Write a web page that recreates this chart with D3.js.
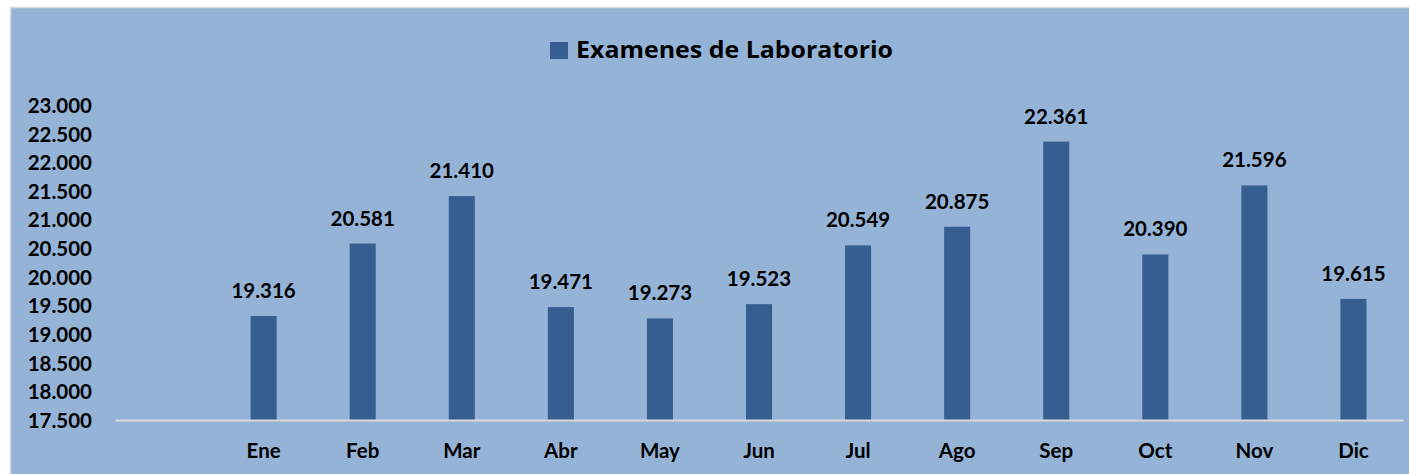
<!DOCTYPE html>
<html>
<head>
<meta charset="utf-8">
<script src="https://cdn.jsdelivr.net/npm/d3@7"></script>
<style>
  body { margin: 0; background: #fff; }
  svg text { font-family: Lato, "Open Sans", sans-serif; font-weight: bold; fill: #000; }
</style>
</head>
<body>
<svg id="chart"></svg>
<script>
const months = ["", "Ene", "Feb", "Mar", "Abr", "May", "Jun", "Jul", "Ago", "Sep", "Oct", "Nov", "Dic"];
const values = [null, 19316, 20581, 21410, 19471, 19273, 19523, 20549, 20875, 22361, 20390, 21596, 19615];
const yTicks = [17500, 18000, 18500, 19000, 19500, 20000, 20500, 21000, 21500, 22000, 22500, 23000];
const seriesName = "Examenes de Laboratorio";

const width = 1409, height = 474;
const svg = d3.select("#chart").attr("width", width).attr("height", height);

const fmt = d3.formatLocale({ decimal: ",", thousands: ".", grouping: [3], currency: ["", ""] }).format(",");

// chart area background
svg.append("rect")
   .attr("x", 10.5).attr("y", 7.5)
   .attr("width", width).attr("height", height)
   .attr("fill", "#95B3D7")
   .attr("stroke", "#D9D9D9")
   .attr("stroke-width", 1.5);

const x = d3.scaleBand()
            .domain(months)
            .range([115, 1403])
            .paddingInner(0.737)
            .paddingOuter(0.3685);

const y = d3.scaleLinear()
            .domain([17500, 23000])
            .range([420, 105]);

// Y axis (labels only)
const yAxis = svg.append("g")
   .attr("transform", "translate(115,0)")
   .call(d3.axisLeft(y).tickValues(yTicks).tickSize(0).tickPadding(23).tickFormat(fmt));
yAxis.select(".domain").remove();
yAxis.selectAll("text").style("font-size", "20.5px").attr("dy", "0.36em");

// bars
const data = months.map((m, i) => ({ month: m, value: values[i] })).filter(d => d.value != null);

svg.selectAll(".bar")
   .data(data)
   .enter()
   .append("rect")
   .attr("class", "bar")
   .attr("x", d => x(d.month))
   .attr("y", d => y(d.value))
   .attr("width", x.bandwidth())
   .attr("height", d => y(17500) - y(d.value))
   .attr("fill", "#365E91");

// data labels
svg.selectAll(".lbl")
   .data(data)
   .enter()
   .append("text")
   .attr("class", "lbl")
   .attr("x", d => x(d.month) + x.bandwidth() / 2)
   .attr("y", d => y(d.value) - 18)
   .attr("text-anchor", "middle")
   .style("font-size", "20.5px")
   .text(d => fmt(d.value));

// X axis
const xAxis = svg.append("g")
   .attr("transform", "translate(0,420)")
   .call(d3.axisBottom(x).tickSize(0).tickPadding(23));
xAxis.select(".domain").attr("stroke", "#D9D9D9").attr("stroke-width", 2);
xAxis.selectAll("text").style("font-size", "20.5px").attr("dy", "0.71em");

// legend / title
const legend = svg.append("g");
legend.append("rect")
      .attr("x", 550).attr("y", 42)
      .attr("width", 18).attr("height", 17)
      .attr("fill", "#365E91");
legend.append("text")
      .attr("x", 576).attr("y", 58)
      .style("font-family", "'Open Sans', sans-serif")
      .style("font-size", "23px")
      .attr("textLength", 317)
      .attr("lengthAdjust", "spacingAndGlyphs")
      .text(seriesName);
</script>
</body>
</html>
